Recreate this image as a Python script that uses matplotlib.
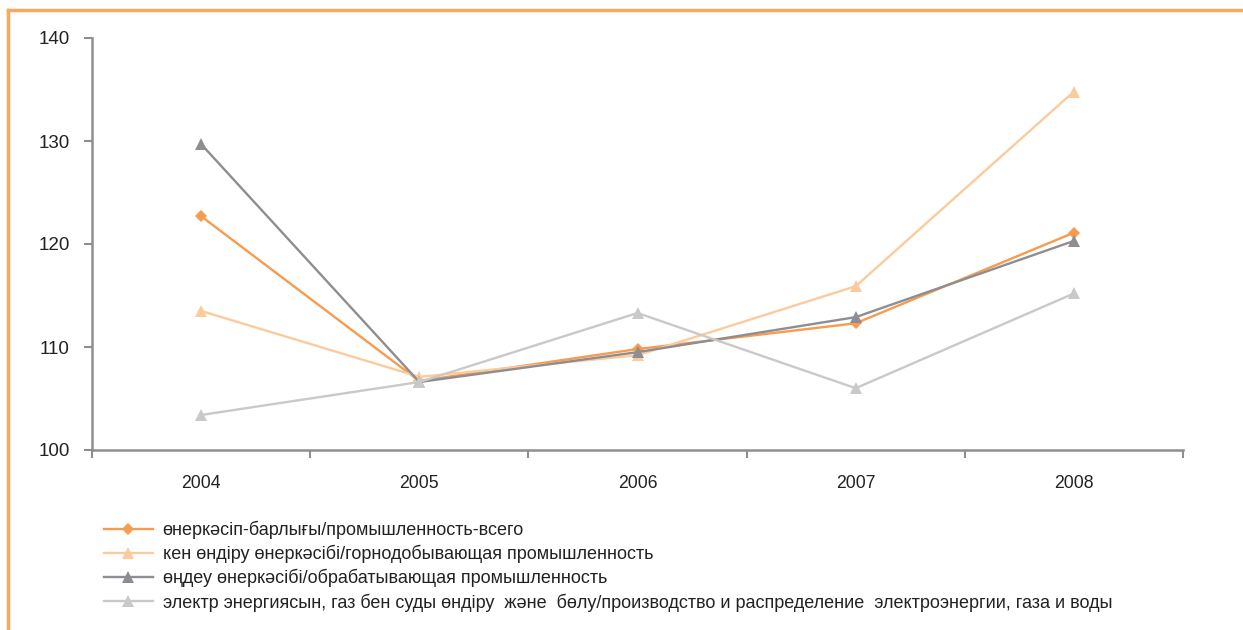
import matplotlib
matplotlib.use("Agg")
import matplotlib.pyplot as plt
from matplotlib.lines import Line2D

plt.rcParams['font.family'] = ['Liberation Sans', 'DejaVu Sans']

years = ["2004", "2005", "2006", "2007", "2008"]
total = [122.7, 106.7, 109.8, 112.3, 121.1]
mining = [113.5, 107.1, 109.2, 115.9, 134.8]
manufacturing = [129.7, 106.6, 109.5, 112.9, 120.3]
electricity = [103.4, 106.6, 113.3, 106.0, 115.2]

labels = [
    "өнеркәсіп-барлығы/промышленность-всего",
    "кен өндіру өнеркәсібі/горнодобывающая промышленность",
    "өңдеу өнеркәсібі/обрабатывающая промышленность",
    "электр энергиясын, газ бен суды өндіру  және  бөлу/производство и распределение  электроэнергии, газа и воды",
]
colors = ["#F79B4E", "#FCCB9C", "#8E8E92", "#C9C9C9"]
markers = ["D", "^", "^", "^"]
msizes = [6, 8, 8, 8]

fig = plt.figure(figsize=(12.43, 6.30), dpi=100)
ax = fig.add_axes([92/1243, 1-450/630, (1183-92)/1243, (450-38)/630])

x = list(range(len(years)))
series = [total, mining, manufacturing, electricity]
handles = []
for s, c, m, ms, lab in zip(series, colors, markers, msizes, labels):
    h, = ax.plot(x, s, color=c, marker=m, markersize=ms, linewidth=1.7,
                 markeredgewidth=0, label=lab)
    handles.append(h)

ax.set_xlim(-0.5, 4.5)
ax.set_ylim(100, 140)
ax.set_yticks([100, 110, 120, 130, 140])
ax.set_xticks(x)
ax.set_xticklabels(years)
ax.set_xticks([i - 0.5 for i in range(6)], minor=True)
ax.tick_params(axis='x', which='major', length=0, pad=18, labelsize=12.7, colors='#222222')
ax.tick_params(axis='x', which='minor', length=6, width=1.5, color='#8E8E92', direction='out')
ax.tick_params(axis='y', length=6, width=1.5, color='#8E8E92', pad=10, labelsize=13.5, labelcolor='#222222')
for sp in ['top', 'right']:
    ax.spines[sp].set_visible(False)
for sp in ['left', 'bottom']:
    ax.spines[sp].set_color('#8E8E92')
    ax.spines[sp].set_linewidth(1.8)

leg = fig.legend(handles=handles, labels=labels, loc='upper left',
                 bbox_to_anchor=(104/1243, 1-521/630), frameon=False,
                 fontsize=13, handlelength=2.7, handletextpad=0.55,
                 labelspacing=0.32, borderaxespad=0, borderpad=0)
for t in leg.get_texts():
    t.set_color('#222222')

# orange frame (top and left)
fig.add_artist(Line2D([8/1243, 1], [1-10/630, 1-10/630], transform=fig.transFigure,
                      color='#F9A85E', linewidth=2.5))
fig.add_artist(Line2D([8/1243, 8/1243], [0, 1-10/630], transform=fig.transFigure,
                      color='#F9A85E', linewidth=2.5))

fig.savefig("out.png", dpi=100)
